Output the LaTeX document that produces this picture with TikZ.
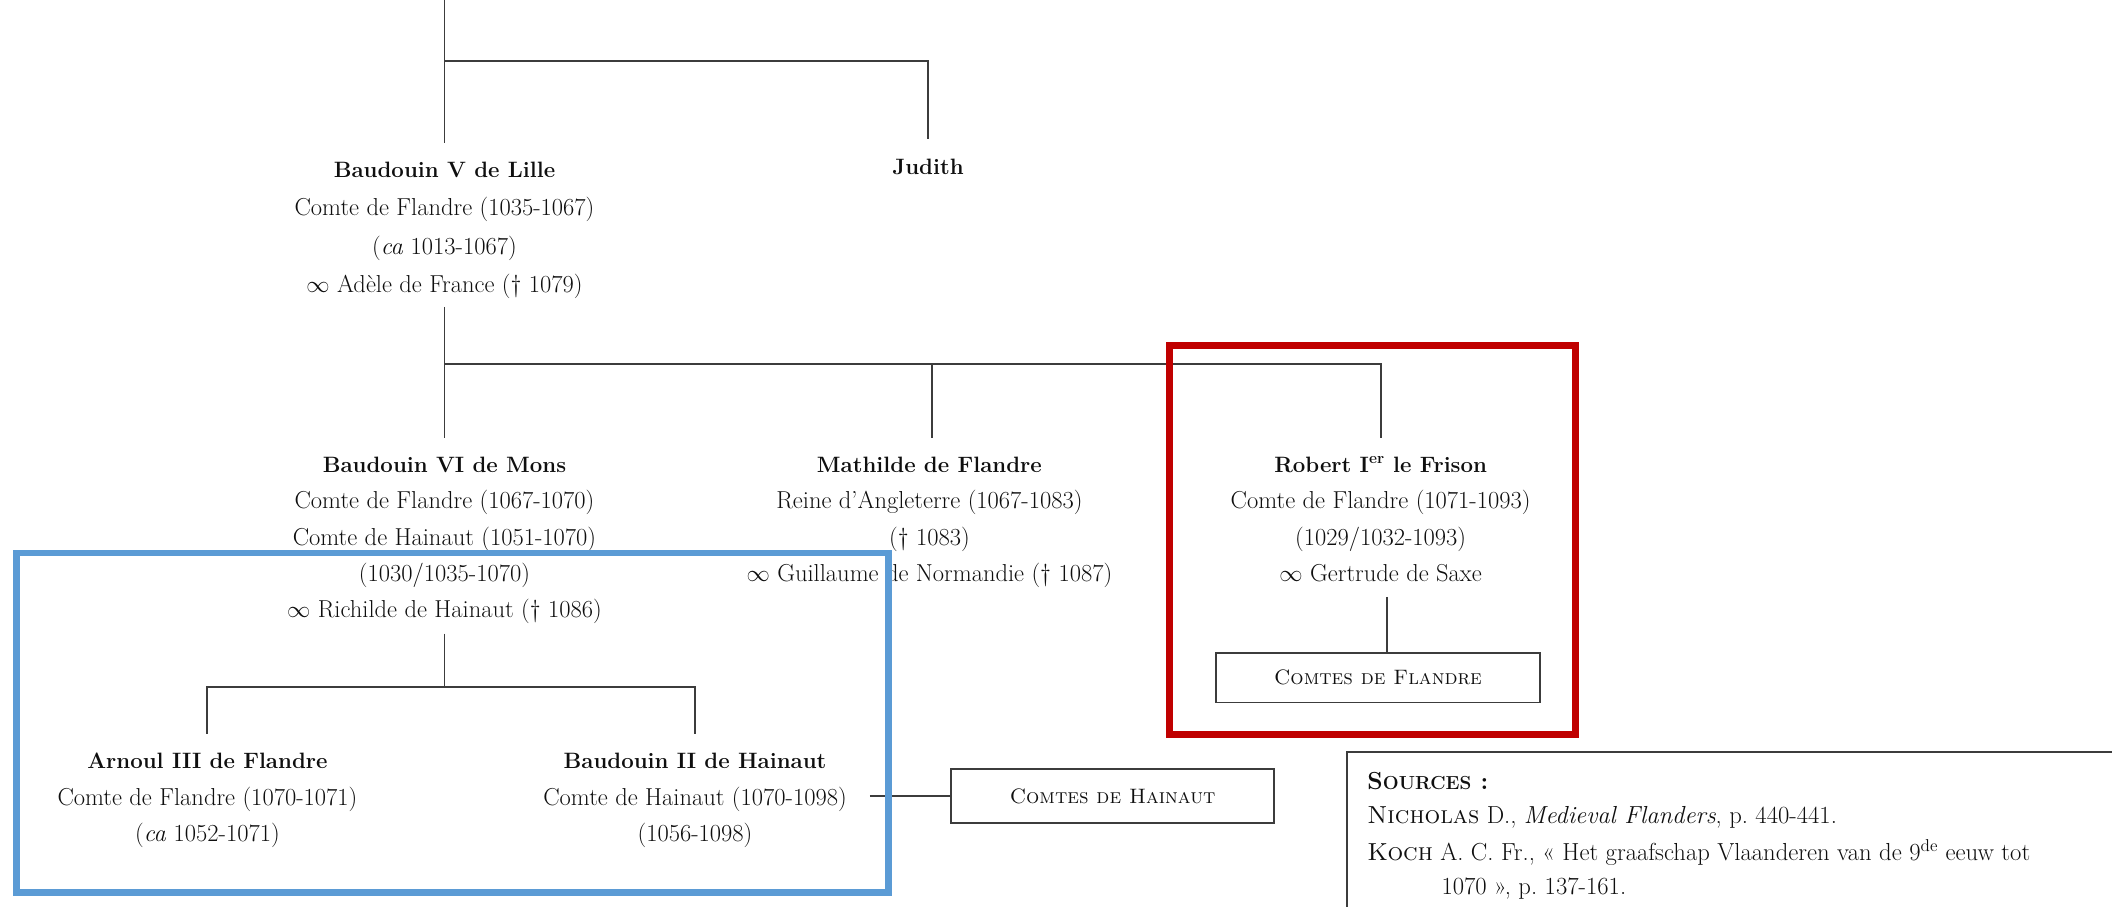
\documentclass[tikz,border=0pt]{standalone}
\usetikzlibrary{calc}
\definecolor{linegray}{RGB}{60,60,60}
\definecolor{redbox}{RGB}{192,0,0}
\definecolor{bluebox}{RGB}{91,155,213}
\definecolor{txt}{RGB}{15,15,15}
\newcommand\persontitle[1]{{\fontsize{16.5}{27}\selectfont\bfseries #1}}
\begin{document}
\begin{tikzpicture}[x=1pt,y=-1pt,
  person/.style={align=center, inner sep=0pt, anchor=north, text=txt, font=\fontsize{18.2}{27}\selectfont},
  conn/.style={draw=linegray, line width=1.4pt},
  endbox/.style={draw=linegray, line width=1.4pt, minimum width=240pt, minimum height=38pt, inner sep=0pt, text=txt, font=\fontsize{15.5}{15.5}\selectfont\scshape},
  src/.style={anchor=west, inner sep=0pt, text=txt, font=\fontsize{18.3}{18.3}\selectfont},
  hl/.style={line width=5pt}
]
\path[use as bounding box] (0,0) rectangle (1568,673);
\clip (0,0) rectangle (1568,673);

% persons
\node[person, font=\fontsize{18.2}{28.5}\selectfont] (b5) at (330,120) {\persontitle{Baudouin V de Lille}\\Comte de Flandre (1035-1067)\\(\textit{ca} 1013-1067)\\$\infty$ Adèle de France († 1079)};
\node[person] (jud) at (689,118) {\persontitle{Judith}};
\node[person] (b6) at (330,339) {\persontitle{Baudouin VI de Mons}\\Comte de Flandre (1067-1070)\\Comte de Hainaut (1051-1070)\\(1030/1035-1070)\\$\infty$ Richilde de Hainaut († 1086)};
\node[person] (mat) at (690,339) {\persontitle{Mathilde de Flandre}\\Reine d’Angleterre (1067-1083)\\(† 1083)\\$\infty$ Guillaume de Normandie († 1087)};
\node[person] (rob) at (1025,339) {\persontitle{Robert I\textsuperscript{er} le Frison}\\Comte de Flandre (1071-1093)\\(1029/1032-1093)\\$\infty$ Gertrude de Saxe};
\node[person] (arn) at (154,559) {\persontitle{Arnoul III de Flandre}\\Comte de Flandre (1070-1071)\\(\textit{ca} 1052-1071)};
\node[person] (b2) at (516,559) {\persontitle{Baudouin II de Hainaut}\\Comte de Hainaut (1070-1098)\\(1056-1098)};

% end boxes
\node[endbox, minimum height=37pt] (fl) at (1023,503) {Comtes de Flandre};
\node[endbox, minimum height=40pt] (hai) at (826,591) {Comtes de Hainaut};

% junctions
\coordinate (t0) at (330,0);
\coordinate (t1) at (330,45);
\coordinate (j2) at (330,270);
\coordinate (j3) at (330,510);

% connectors
\draw[conn, shorten >=14pt] (t0) -- (b5.north);
\draw[conn, shorten >=15pt] (t1) -| (jud.north);
\draw[conn, shorten <=6pt] (b5.south) -- (j2);
\draw[conn, shorten >=14pt] (j2) -- (b6.north);
\draw[conn, shorten >=14pt] (j2) -| ([xshift=2pt]mat.north);
\draw[conn, shorten >=14pt] (j2) -| (rob.north);
\draw[conn, shorten <=11pt] ([xshift=5pt]rob.south) -- ([xshift=5pt]rob.south |- fl.north);
\draw[conn, shorten <=7pt] (b6.south) -- (j3);
\draw[conn, shorten >=14pt] (j3) -| (arn.north);
\draw[conn, shorten >=14pt] (j3) -| (b2.north);
\draw[conn, shorten <=17pt] (b2.east |- hai.west) -- (hai.west);

% highlight frames
\draw[hl, draw=redbox] (868.5,256.5) rectangle (1169.5,545.5);
\draw[hl, draw=bluebox] (12.5,410.5) rectangle (659.5,662.5);

% sources
\coordinate (sc) at (1000,558);
\draw[conn] (1000,700) -- (sc) -- (1600,558);
\node[src] (s0) at (1015,580) {\textbf{S{\fontsize{14}{14}\selectfont OURCES} :}};
\node[src] (s1) at (1015,607) {\textsc{Nicholas} D., \textit{Medieval Flanders}, p.~440-441.};
\node[src] (s2) at (1015,633) {\textsc{Koch} A. C. Fr., « Het graafschap Vlaanderen van de 9\textsuperscript{de} eeuw tot};
\node[src] (s3) at (1070,660) {1070 », p.~137-161.};
\end{tikzpicture}
\end{document}
